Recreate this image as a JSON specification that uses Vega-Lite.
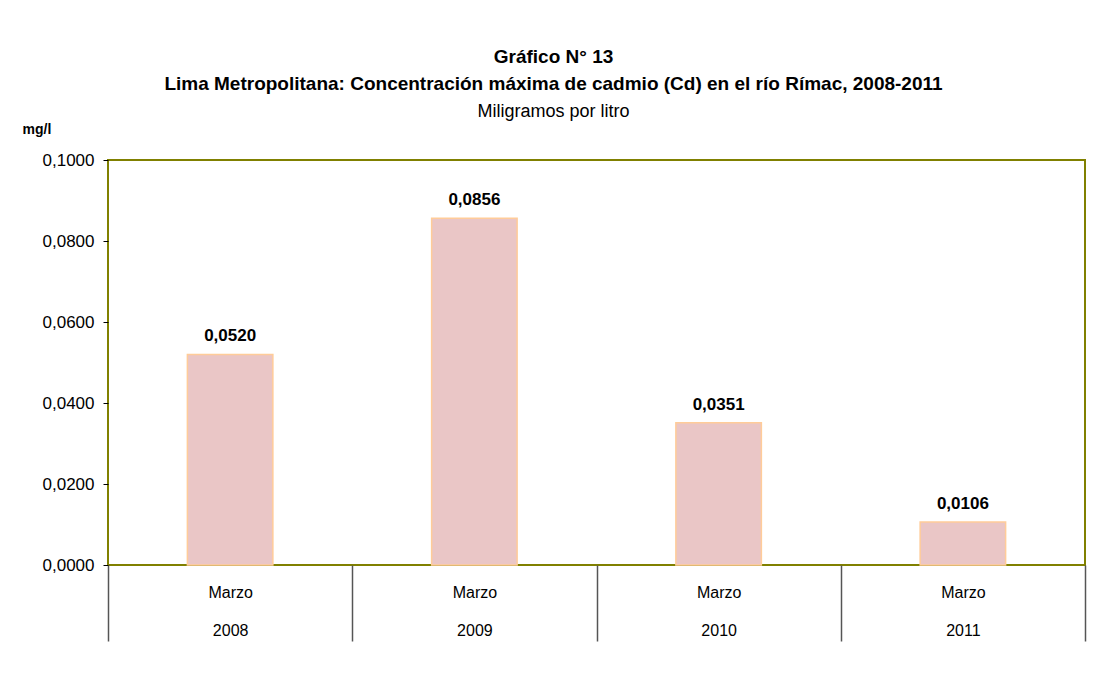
{
  "$schema": "https://vega.github.io/schema/vega-lite/v6.json",
  "autosize": {"type": "none"},
  "width": 977,
  "height": 405,
  "padding": {"left": 108, "top": 160, "right": 14, "bottom": 109},
  "background": "white",
  "title": {
    "text": ["Gráfico N° 13", "Lima Metropolitana: Concentración máxima de cadmio (Cd) en el río Rímac, 2008-2011"],
    "subtitle": "Miligramos por litro",
    "font": "Liberation Sans",
    "fontSize": 19,
    "fontWeight": "bold",
    "lineHeight": 27,
    "color": "#000000",
    "subtitleFont": "Liberation Sans",
    "subtitleFontSize": 18,
    "subtitleColor": "#000000",
    "subtitlePadding": 9,
    "anchor": "middle",
    "frame": "group",
    "dx": -43,
    "offset": 1
  },
  "data": {
    "values": [
      {"year": "2008", "value": 0.0520},
      {"year": "2009", "value": 0.0856},
      {"year": "2010", "value": 0.0351},
      {"year": "2011", "value": 0.0106}
    ]
  },
  "encoding": {
    "x": {
      "field": "year",
      "type": "nominal",
      "sort": null,
      "scale": {"paddingInner": 0, "paddingOuter": 0},
      "axis": {
        "title": null,
        "labelAngle": 0,
        "labelExpr": "indexof(['2008','2009','2010','2011'], datum.label) >= 0 ? ['Marzo', datum.label] : ''",
        "labelLineHeight": 38,
        "labelFont": "Liberation Sans",
        "labelFontSize": 16,
        "labelColor": "#000000",
        "labelBaseline": "top",
        "tickBand": "extent",
        "tickSize": 76,
        "tickColor": "#555555",
        "tickWidth": 1.5,
        "labelPadding": -57,
        "domain": false
      }
    },
    "y": {
      "field": "value",
      "type": "quantitative",
      "scale": {"domain": [0, 0.1]},
      "axis": {
        "values": [0, 0.02, 0.04, 0.06, 0.08, 0.1],
        "labelExpr": "replace(format(datum.value, '.4f'), '.', ',')",
        "labelFont": "Liberation Sans",
        "labelFontSize": 17,
        "labelColor": "#000000",
        "tickSize": 5,
        "tickColor": "#000000",
        "labelPadding": 9,
        "grid": false,
        "domain": false,
        "title": "mg/l",
        "titleAngle": 0,
        "titleAlign": "left",
        "titleBaseline": "middle",
        "titleX": -86,
        "titleY": -31,
        "titleFont": "Liberation Sans",
        "titleFontSize": 14,
        "titleFontWeight": "bold",
        "titleColor": "#000000"
      }
    }
  },
  "layer": [
    {
      "mark": {"type": "bar", "width": {"band": 0.35}, "fill": "#eac6c6", "stroke": "#ffcc99", "strokeWidth": 1.5}
    },
    {
      "mark": {"type": "text", "baseline": "alphabetic", "dy": -13, "font": "Liberation Sans", "fontSize": 17, "fontWeight": "bold", "color": "#000000"},
      "encoding": {
        "text": {"field": "value", "type": "quantitative", "format": ".4f"}
      }
    }
  ],
  "config": {
    "view": {"stroke": "#808000", "strokeWidth": 2},
    "locale": {"number": {"decimal": ",", "thousands": ".", "grouping": [3], "currency": ["", ""]}}
  }
}
